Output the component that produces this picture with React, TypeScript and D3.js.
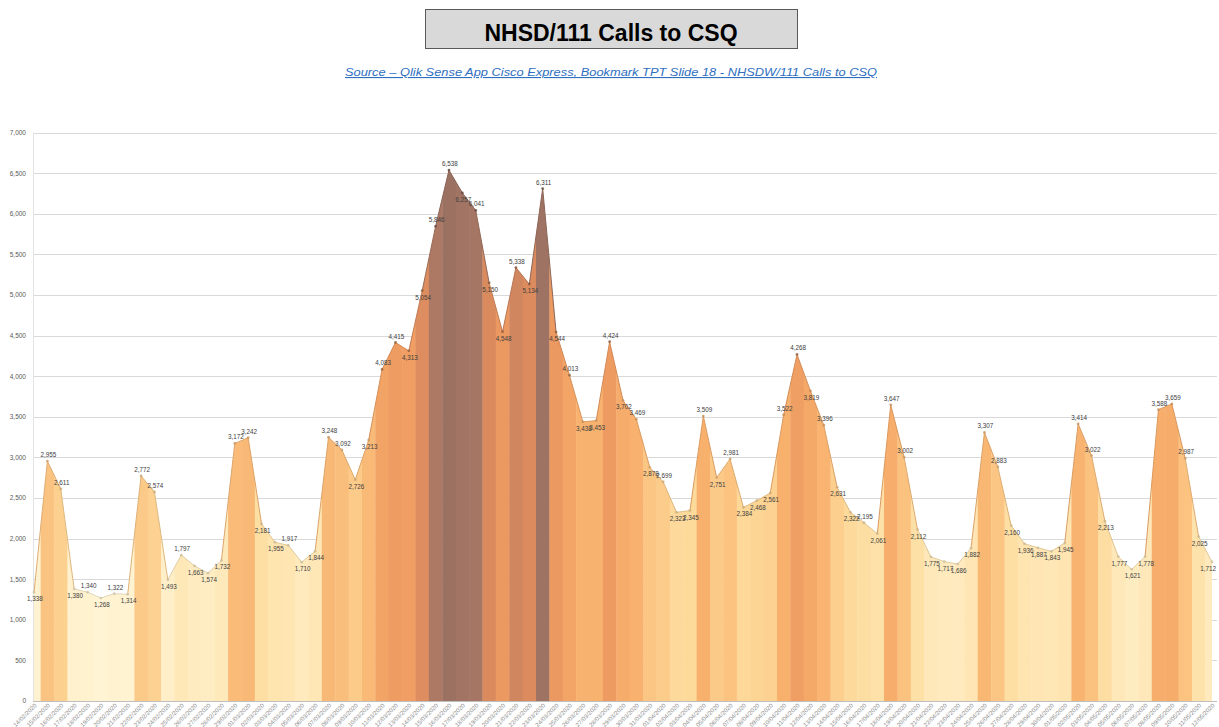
import React, { useEffect, useRef } from 'react';
import * as d3 from 'd3';

const title = 'NHSD/111 Calls to CSQ';
const source = 'Source – Qlik Sense App Cisco Express, Bookmark TPT Slide 18 - NHSDW/111 Calls to CSQ';

// daily calls, 14/02/2020 - 12/05/2020
const calls: number[] = [
  1338, 2955, 2611, 1380, 1340, 1268, 1322, 1314, 2772, 2574,
  1493, 1797, 1663, 1574, 1732, 3172, 3242, 2181, 1955, 1917,
  1710, 1844, 3248, 3092, 2726, 3213, 4083, 4415, 4313, 5054,
  5846, 6538, 6257, 6041, 5150, 4548, 5338, 5134, 6311, 4544,
  4013, 3438, 3453, 4424, 3702, 3469, 2878, 2699, 2323, 2345,
  3509, 2751, 2981, 2384, 2468, 2561, 3522, 4268, 3819, 3396,
  2631, 2322, 2195, 2061, 3647, 3002, 2112, 1775, 1717, 1686,
  1882, 3307, 2883, 2160, 1936, 1887, 1843, 1945, 3414, 3022,
  2213, 1777, 1621, 1778, 3588, 3659, 2987, 2025, 1712,
];

const firstDay = new Date(2020, 1, 14);
const dayLabels: string[] = calls.map(function(d, i) {
  return d3.timeFormat('%d/%m/%Y')(d3.timeDay.offset(firstDay, i));
});

const yTicks = [0, 500, 1000, 1500, 2000, 2500, 3000, 3500, 4000, 4500, 5000, 5500, 6000, 6500, 7000];

// band colours by call volume
const colourStops = [1250, 1700, 2300, 2900, 3500, 4400, 5200, 5900, 6500];
const colourRange = ['#fff4d4', '#feeabd', '#fddb9c', '#fbc583', '#f8b06d', '#ef9c62', '#d98a5e', '#a97864', '#9b7162'];

const draw = (el: SVGSVGElement | null) => {
  if (!el) return;
  var svg = d3.select(el);
  svg.selectAll('*').remove();

  var left = 33, right = 1217, top = 132.6, bottom = 701;

  var x = d3.scaleLinear().domain([0, calls.length - 1]).range([34, 1212]);
  var y = d3.scaleLinear().domain([0, 7000]).range([bottom, top]);
  var colour = d3.scaleLinear<string>().domain(colourStops).range(colourRange).clamp(true);
  var step = x(1) - x(0);

  /**
  * Title
  **/

  svg.append('rect')
    .attr('x', 425.5).attr('y', 9.5)
    .attr('width', 372).attr('height', 39)
    .attr('fill', '#d9d9d9')
    .attr('stroke', '#595959');

  svg.append('text')
    .attr('x', 611).attr('y', 41)
    .attr('text-anchor', 'middle')
    .attr('font-family', 'Liberation Sans, Arial, sans-serif')
    .attr('font-weight', 'bold')
    .attr('font-size', 23)
    .attr('fill', '#000')
    .text(title);

  svg.append('text')
    .attr('x', 611).attr('y', 76)
    .attr('text-anchor', 'middle')
    .attr('font-family', 'Liberation Sans, Arial, sans-serif')
    .attr('font-style', 'italic')
    .attr('font-size', 11)
    .attr('textLength', 532)
    .attr('lengthAdjust', 'spacingAndGlyphs')
    .attr('text-decoration', 'underline')
    .attr('fill', '#2e6fbf')
    .text(source);

  /**
  * Grid and y axis
  **/

  svg.selectAll('.grid')
    .data(yTicks)
    .enter().append('line')
      .attr('x1', left).attr('x2', right)
      .attr('y1', function(d) { return Math.round(y(d)) + 0.5; })
      .attr('y2', function(d) { return Math.round(y(d)) + 0.5; })
      .attr('stroke', function(d) { return d === 0 ? '#bfbfbf' : '#d9d9d9'; })
      .attr('stroke-width', 1.2);

  svg.append('line')
    .attr('x1', left + 0.5).attr('x2', left + 0.5)
    .attr('y1', top).attr('y2', bottom)
    .attr('stroke', '#e3e3e3');

  svg.selectAll('.ytick')
    .data(yTicks)
    .enter().append('text')
      .attr('x', 26)
      .attr('y', function(d) { return y(d) + 2.3; })
      .attr('text-anchor', 'end')
      .attr('font-family', 'Liberation Sans, Arial, sans-serif')
      .attr('font-size', 6.5)
      .attr('fill', '#595959')
      .text(function(d) { return d3.format(',')(d); });

  /**
  * Area, filled with one band per day
  **/

  var area = d3.area<number>()
    .x(function(d, i) { return x(i); })
    .y0(y(0))
    .y1(function(d) { return y(d); });

  svg.append('defs').append('clipPath')
    .attr('id', 'area-clip')
    .append('path')
      .attr('d', area(calls));

  var bands = svg.append('g').attr('clip-path', 'url(#area-clip)');

  bands.selectAll('rect')
    .data(calls)
    .enter().append('rect')
      .attr('x', function(d, i) { return x(i) - step / 2; })
      .attr('y', top - 40)
      .attr('width', step + 0.4)
      .attr('height', bottom - top + 40)
      .attr('fill', function(d) { return colour(d); });

  // top edge, each segment in its day's colour
  var pairs = d3.pairs(calls.map(function(d, i) { return [i, d]; }));

  svg.selectAll('.edge')
    .data(pairs)
    .enter().append('line')
      .attr('x1', function(p) { return x(p[0][0]); })
      .attr('y1', function(p) { return y(p[0][1]); })
      .attr('x2', function(p) { return x(p[1][0]); })
      .attr('y2', function(p) { return y(p[1][1]); })
      .attr('stroke', function(p) { return d3.color(colour(Math.max(p[0][1], p[1][1])))!.darker(0.35).toString(); })
      .attr('stroke-width', 1);

  svg.selectAll('.dot')
    .data(calls)
    .enter().append('circle')
      .attr('cx', function(d, i) { return x(i); })
      .attr('cy', function(d) { return y(d); })
      .attr('r', 1.4)
      .attr('fill', function(d) { return d3.color(colour(d))!.darker(d > 4000 ? 1.4 : 0.6).toString(); })
      .attr('opacity', 0.8);

  /**
  * Value labels
  **/

  var last = calls.length - 1;

  function isLow(i: number) {
    var prev = i > 0 ? calls[i - 1] : calls[i + 1];
    var next = i < last ? calls[i + 1] : calls[i - 1];
    return calls[i] < (prev + next) / 2;
  }

  svg.selectAll('.value')
    .data(calls)
    .enter().append('text')
      .attr('x', function(d, i) { return i === last ? x(i) + 4 : x(i) + 1; })
      .attr('y', function(d, i) { return isLow(i) ? y(d) + 9 : y(d) - 4; })
      .attr('text-anchor', function(d, i) { return i === last ? 'end' : 'middle'; })
      .attr('font-family', 'Liberation Sans, Arial, sans-serif')
      .attr('font-size', 6.3)
      .attr('fill', '#404040')
      .text(function(d) { return d3.format(',')(d); });

  /**
  * Date labels
  **/

  svg.selectAll('.xtick')
    .data(dayLabels)
    .enter().append('text')
      .attr('transform', function(d, i) { return 'translate(' + (x(i) + 3) + ',' + (bottom + 5) + ') rotate(-45)'; })
      .attr('text-anchor', 'end')
      .attr('font-family', 'Liberation Sans, Arial, sans-serif')
      .attr('font-size', 6)
      .attr('fill', '#8c8c8c')
      .text(function(d) { return d; });
};

export default function App() {
  const ref = useRef<SVGSVGElement>(null);

  useEffect(() => {
    draw(ref.current);
  }, []);

  return (
    <svg
      ref={ref}
      width={1219}
      height={727}
      style={{ position: 'absolute', left: 0, top: 0, background: '#fff' }}
    />
  );
}
